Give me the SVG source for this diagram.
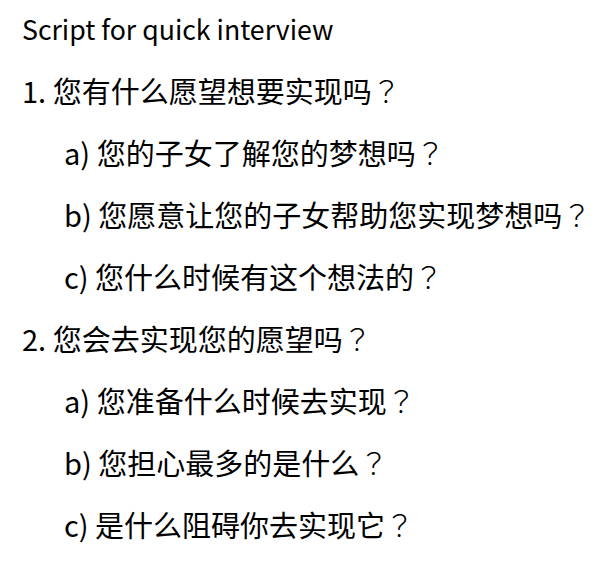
<svg xmlns="http://www.w3.org/2000/svg" width="604" height="568" viewBox="0 0 604 568">
<style>
text{font-family:"Noto Sans CJK SC","Liberation Sans",sans-serif;font-size:29px;fill:#000}
.t{font-size:26.7px}
.q{font-family:"Noto Sans CJK TC","Noto Sans CJK JP",sans-serif;font-weight:300}
</style>
<rect width="604" height="568" fill="#fff"/>
<g id="title"><text class="t" x="22" y="40">Script for quick interview</text></g>
<g id="q1"><text x="22" y="103">1. 您有什么愿望想要实现吗<tspan class="q">？</tspan></text></g>
<g id="q1a"><text x="64" y="165">a) 您的子女了解您的梦想吗<tspan class="q">？</tspan></text></g>
<g id="q1b"><text x="64" y="227">b) 您愿意让您的子女帮助您实现梦想吗<tspan class="q">？</tspan></text></g>
<g id="q1c"><text x="64" y="289">c) 您什么时候有这个想法的<tspan class="q">？</tspan></text></g>
<g id="q2"><text x="22" y="351">2. 您会去实现您的愿望吗<tspan class="q">？</tspan></text></g>
<g id="q2a"><text x="64" y="413">a) 您准备什么时候去实现<tspan class="q">？</tspan></text></g>
<g id="q2b"><text x="64" y="475">b) 您担心最多的是什么<tspan class="q">？</tspan></text></g>
<g id="q2c"><text x="64" y="537">c) 是什么阻碍你去实现它<tspan class="q">？</tspan></text></g>
<g id="connectors"/>
</svg>
